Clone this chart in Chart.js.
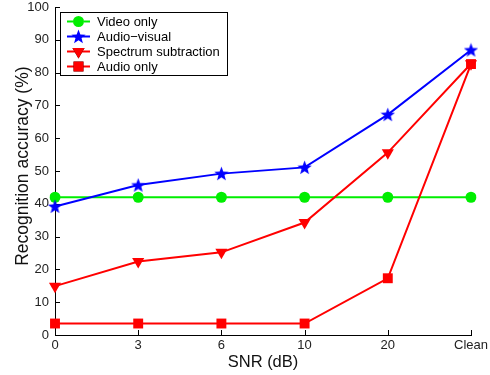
<!DOCTYPE html>
<html>
<head>
    <title>Recognition accuracy vs SNR</title>
    <script src="https://cdn.jsdelivr.net/npm/chart.js@4.4.2/dist/chart.umd.min.js"></script>
    <style>
        html, body { margin: 0; padding: 0; background: #fff; }
        canvas { display: block; }
    </style>
</head>
<body>
    <canvas id="snrChart" width="490" height="375"></canvas>
    <script>
        // data
        const snrLabels = ['0', '3', '6', '10', '20', 'Clean'];
        const videoOnly = [42, 42, 42, 42, 42, 42];
        const audioVisual = [39.2, 45.7, 49.2, 51.1, 67.2, 86.9];
        const spectrumSub = [14.9, 22.4, 25.2, 34.3, 55.6, 82.7];
        const audioOnly = [3.5, 3.5, 3.5, 3.5, 17.3, 82.6];
        const yTicks = [0, 10, 20, 30, 40, 50, 60, 70, 80, 90, 100];

        const FONT = '"Liberation Sans", Arial, sans-serif';

        // filled five point star, chart.js has no such point style
        function makeStar(size, color) {
            const c = document.createElement('canvas');
            c.width = size; c.height = size;
            const g = c.getContext('2d');
            const cx = size / 2, cy = size / 2 + 0.6;
            const R = size / 2, r = R * 0.42;
            g.beginPath();
            for (let i = 0; i < 10; i++) {
                const rad = (i % 2 === 0) ? R : r;
                const a = -Math.PI / 2 + i * Math.PI / 5;
                g.lineTo(cx + Math.cos(a) * rad, cy + Math.sin(a) * rad);
            }
            g.closePath();
            g.fillStyle = color;
            g.fill();
            return g.canvas;
        }
        const starImg = makeStar(15, '#0000ff');

        const series = [
            { label: 'Video only', data: videoOnly, color: '#00ee00', style: 'circle', radius: 5.5, rotation: 0 },
            { label: 'Audio\u2212visual', data: audioVisual, color: '#0000ff', style: starImg, radius: 7, rotation: 0 },
            { label: 'Spectrum subtraction', data: spectrumSub, color: '#ff0000', style: 'triangle', radius: 7, rotation: 180 },
            { label: 'Audio only', data: audioOnly, color: '#ff0000', style: 'rect', radius: 7, rotation: 0 }
        ];

        // inward tick marks, matlab style
        const innerTicks = {
            id: 'innerTicks',
            beforeDatasetsDraw(chart) {
                const { ctx, scales: { x, y } } = chart;
                ctx.save();
                ctx.strokeStyle = '#000';
                ctx.lineWidth = 1;
                ctx.beginPath();
                y.ticks.forEach((t, i) => {
                    const py = Math.round(y.getPixelForTick(i)) + 0.5;
                    ctx.moveTo(y.right, py);
                    ctx.lineTo(y.right + 5, py);
                });
                x.ticks.forEach((t, i) => {
                    const px = Math.round(x.getPixelForTick(i)) + 0.5;
                    ctx.moveTo(px, x.top);
                    ctx.lineTo(px, x.top - 5);
                });
                ctx.stroke();
                ctx.restore();
            }
        };

        // boxed legend inside the plot
        const boxLegend = {
            id: 'boxLegend',
            afterDraw(chart) {
                const ctx = chart.ctx;
                const left = chart.chartArea.left + 5, top = chart.chartArea.top + 5.5;
                const w = 167, h = 63;
                ctx.save();
                ctx.fillStyle = '#fff';
                ctx.fillRect(left, top, w, h);
                ctx.strokeStyle = '#000';
                ctx.lineWidth = 1;
                ctx.strokeRect(left + 0.5, top, w, h);
                ctx.font = '13px ' + FONT;
                ctx.textBaseline = 'middle';
                series.forEach((s, i) => {
                    const cy = top + 9 + i * 15;
                    ctx.strokeStyle = s.color;
                    ctx.lineWidth = 2;
                    ctx.beginPath();
                    ctx.moveTo(left + 7, cy);
                    ctx.lineTo(left + 30, cy);
                    ctx.stroke();
                    Chart.helpers.drawPoint(ctx, {
                        pointStyle: s.style, rotation: s.rotation, radius: s.radius, borderWidth: 0
                    }, left + 18.5, cy);
                    ctx.fillStyle = s.color;
                    ctx.fill();
                    ctx.fillStyle = '#000';
                    ctx.fillText(s.label, left + 37, cy + 0.5);
                });
                ctx.restore();
            }
        };

        const ctx = document.getElementById('snrChart').getContext('2d');
        new Chart(ctx, {
            type: 'line',
            data: {
                labels: snrLabels,
                datasets: series.map((s, i) => ({
                    label: s.label,
                    data: s.data,
                    borderColor: s.color,
                    backgroundColor: s.color,
                    borderWidth: 2,
                    pointStyle: s.style,
                    pointRadius: s.radius,
                    pointRotation: s.rotation,
                    pointBorderWidth: 0,
                    tension: 0,
                    fill: false,
                    order: series.length - i
                }))
            },
            options: {
                responsive: false,
                animation: false,
                devicePixelRatio: 1,
                layout: { padding: { left: 0, right: 19, top: 6, bottom: 0 } },
                scales: {
                    x: {
                        offset: false,
                        grid: { display: false, drawTicks: false },
                        border: { display: true, color: '#000', width: 1 },
                        ticks: { color: '#222', font: { family: FONT, size: 13 }, padding: 3, maxRotation: 0, autoSkip: false },
                        title: { display: true, text: 'SNR (dB)', color: '#111', font: { family: FONT, size: 16.5 }, padding: { top: 0, bottom: 3 } },
                        afterFit(scale) {
                            scale.height = 40;
                            scale.paddingLeft = 0;
                            scale.paddingRight = 0;
                        }
                    },
                    y: {
                        min: 0,
                        max: 100,
                        grid: { display: false, drawTicks: false },
                        border: { display: true, color: '#000', width: 1 },
                        ticks: { color: '#222', font: { family: FONT, size: 13 }, padding: 6, stepSize: 10 },
                        afterBuildTicks(scale) {
                            scale.ticks = yTicks.map(v => ({ value: v }));
                        },
                        title: { display: true, text: '\u00a0\u00a0Recognition accuracy (%)', color: '#111', font: { family: FONT, size: 17.5 }, padding: { top: 13, bottom: 0 } },
                        afterFit(scale) {
                            scale.width = 55;
                            scale.paddingTop = 0;
                            scale.paddingBottom = 0;
                        }
                    }
                },
                plugins: {
                    legend: { display: false },
                    tooltip: { enabled: false }
                }
            },
            plugins: [innerTicks, boxLegend]
        });
    </script>
</body>
</html>
